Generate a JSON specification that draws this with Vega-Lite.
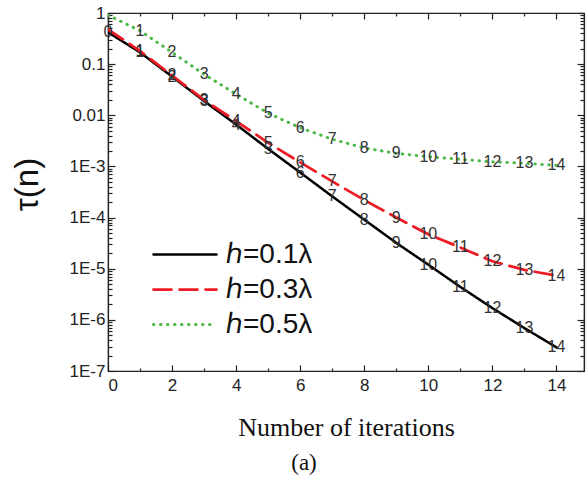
{
  "$schema": "https://vega.github.io/schema/vega-lite/v6.json",
  "width": 476,
  "height": 358,
  "autosize": {"type": "none"},
  "padding": {"left": 108, "top": 13, "right": 2, "bottom": 111},
  "background": "white",
  "title": {"text": "(a)", "orient": "bottom", "anchor": "middle", "dx": -42, "offset": 12, "font": "Liberation Serif", "fontSize": 23, "fontWeight": "normal", "color": "#111"},
  "config": {
    "view": {"stroke": "#222", "strokeWidth": 1.2},
    "axis": {"domainColor": "#222", "domainWidth": 1.2, "tickColor": "#222", "tickWidth": 1.2, "grid": false, "labelFont": "Liberation Sans", "labelFontSize": 17, "labelColor": "#222"}
  },
  "data": {"values": [
    {"series": "ℎ=0.1λ", "n": 0, "tau": 0.42},
    {"series": "ℎ=0.1λ", "n": 1, "tau": 0.17},
    {"series": "ℎ=0.1λ", "n": 2, "tau": 0.057},
    {"series": "ℎ=0.1λ", "n": 3, "tau": 0.019},
    {"series": "ℎ=0.1λ", "n": 4, "tau": 0.0066},
    {"series": "ℎ=0.1λ", "n": 5, "tau": 0.0022},
    {"series": "ℎ=0.1λ", "n": 6, "tau": 0.00076},
    {"series": "ℎ=0.1λ", "n": 7, "tau": 0.00026},
    {"series": "ℎ=0.1λ", "n": 8, "tau": 0.000091},
    {"series": "ℎ=0.1λ", "n": 9, "tau": 0.000032},
    {"series": "ℎ=0.1λ", "n": 10, "tau": 0.000012},
    {"series": "ℎ=0.1λ", "n": 11, "tau": 0.0000044},
    {"series": "ℎ=0.1λ", "n": 12, "tau": 0.0000017},
    {"series": "ℎ=0.1λ", "n": 13, "tau": 0.00000069},
    {"series": "ℎ=0.1λ", "n": 14, "tau": 0.00000029},
    {"series": "ℎ=0.3λ", "n": 0, "tau": 0.48},
    {"series": "ℎ=0.3λ", "n": 1, "tau": 0.18},
    {"series": "ℎ=0.3λ", "n": 2, "tau": 0.06},
    {"series": "ℎ=0.3λ", "n": 3, "tau": 0.02},
    {"series": "ℎ=0.3λ", "n": 4, "tau": 0.0077},
    {"series": "ℎ=0.3λ", "n": 5, "tau": 0.0029},
    {"series": "ℎ=0.3λ", "n": 6, "tau": 0.0012},
    {"series": "ℎ=0.3λ", "n": 7, "tau": 0.00051},
    {"series": "ℎ=0.3λ", "n": 8, "tau": 0.00022},
    {"series": "ℎ=0.3λ", "n": 9, "tau": 0.0001},
    {"series": "ℎ=0.3λ", "n": 10, "tau": 0.000047},
    {"series": "ℎ=0.3λ", "n": 11, "tau": 0.000026},
    {"series": "ℎ=0.3λ", "n": 12, "tau": 0.000014},
    {"series": "ℎ=0.3λ", "n": 13, "tau": 0.0000095},
    {"series": "ℎ=0.3λ", "n": 14, "tau": 0.0000073},
    {"series": "ℎ=0.5λ", "n": 0, "tau": 0.91},
    {"series": "ℎ=0.5λ", "n": 1, "tau": 0.45},
    {"series": "ℎ=0.5λ", "n": 2, "tau": 0.17},
    {"series": "ℎ=0.5λ", "n": 3, "tau": 0.063},
    {"series": "ℎ=0.5λ", "n": 4, "tau": 0.026},
    {"series": "ℎ=0.5λ", "n": 5, "tau": 0.011},
    {"series": "ℎ=0.5λ", "n": 6, "tau": 0.0057},
    {"series": "ℎ=0.5λ", "n": 7, "tau": 0.0034},
    {"series": "ℎ=0.5λ", "n": 8, "tau": 0.0023},
    {"series": "ℎ=0.5λ", "n": 9, "tau": 0.0018},
    {"series": "ℎ=0.5λ", "n": 10, "tau": 0.00155},
    {"series": "ℎ=0.5λ", "n": 11, "tau": 0.00138},
    {"series": "ℎ=0.5λ", "n": 12, "tau": 0.00123},
    {"series": "ℎ=0.5λ", "n": 13, "tau": 0.00115},
    {"series": "ℎ=0.5λ", "n": 14, "tau": 0.00105}
  ]},
  "resolve": {"axis": {"x": "independent", "y": "independent"}},
  "layer": [
    {
      "mark": {"type": "line", "strokeCap": "round", "strokeJoin": "round", "clip": true},
      "encoding": {
        "x": {"field": "n", "type": "quantitative",
          "scale": {"domain": [0, 14.86], "nice": false, "zero": false},
          "axis": {"orient": "bottom", "values": [0,1,2,3,4,5,6,7,8,9,10,11,12,13,14],
            "labelExpr": "datum.value % 2 == 0 ? datum.label : ''",
            "tickSize": {"condition": {"test": "datum.value % 2 == 0", "value": -6}, "value": -3},
            "labelPadding": 12,
            "title": "Number of iterations", "titleFont": "Liberation Serif", "titleFontSize": 26, "titleFontWeight": "normal", "titleColor": "#111",
            "titleX": 238, "titleY": 64, "titleBaseline": "alphabetic"}},
        "y": {"field": "tau", "type": "quantitative",
          "scale": {"type": "log", "domain": [0.0000001, 1], "nice": false},
          "axis": {"orient": "left",
            "values": [0.0000001,0.0000002,0.0000003,0.0000004,0.0000005,0.0000006,0.0000007,0.0000008,0.0000009,0.000001,0.000002,0.000003,0.000004,0.000005,0.000006,0.000007,0.000008,0.000009,0.00001,0.00002,0.00003,0.00004,0.00005,0.00006,0.00007,0.00008,0.00009,0.0001,0.0002,0.0003,0.0004,0.0005,0.0006,0.0007,0.0008,0.0009,0.001,0.002,0.003,0.004,0.005,0.006,0.007,0.008,0.009,0.01,0.02,0.03,0.04,0.05,0.06,0.07,0.08,0.09,0.1,0.2,0.3,0.4,0.5,0.6,0.7,0.8,0.9,1],
            "labelExpr": "indexof([1,0.1,0.01,0.001,0.0001,0.00001,0.000001,0.0000001], datum.value) >= 0 ? (datum.value >= 0.01 ? datum.value + '' : '1E' + round(log(datum.value) / LN10)) : ''",
            "tickSize": {"condition": {"test": "indexof([1,0.1,0.01,0.001,0.0001,0.00001,0.000001,0.0000001], datum.value) >= 0", "value": -7}, "value": -4},
            "labelPadding": 10,
            "title": "τ(n)", "titleFont": "Liberation Sans", "titleFontSize": 33, "titleFontWeight": "normal", "titleColor": "#111",
            "titleAngle": 270, "titleX": -81, "titleY": 171, "titleAlign": "center", "titleBaseline": "middle"}},
        "color": {"field": "series", "type": "nominal",
          "scale": {"domain": ["ℎ=0.1λ", "ℎ=0.3λ", "ℎ=0.5λ"], "range": ["#000000", "#ed1c24", "#4db748"]},
          "legend": {"orient": "none", "legendX": 44, "legendY": 224, "title": null, "symbolType": "stroke", "symbolSize": 3969, "symbolStrokeWidth": 3, "labelFont": "Liberation Sans", "labelFontSize": 28, "labelColor": "#111", "labelOffset": 8, "clipHeight": 35, "rowPadding": 0, "padding": 0,
            "encode": {"symbols": {"update": {"strokeCap": {"value": "round"}}}}}},
        "strokeDash": {"field": "series", "type": "nominal",
          "scale": {"domain": ["ℎ=0.1λ", "ℎ=0.3λ", "ℎ=0.5λ"], "range": [[1, 0], [18, 8], [0.5, 6.5]]},
          "legend": null},
        "strokeWidth": {"field": "series", "type": "nominal",
          "scale": {"domain": ["ℎ=0.1λ", "ℎ=0.3λ", "ℎ=0.5λ"], "range": [2.5, 3, 3.8]},
          "legend": null}
      }
    },
    {
      "transform": [{"filter": "datum.n > 0 || datum.series == 'ℎ=0.1λ'"}],
      "mark": {"type": "text", "font": "Liberation Sans", "fontSize": 16, "color": "#333", "align": "center", "baseline": "middle"},
      "encoding": {
        "x": {"field": "n", "type": "quantitative",
          "axis": {"orient": "top", "values": [0,1,2,3,4,5,6,7,8,9,10,11,12,13,14], "labels": false, "title": null,
            "tickSize": {"condition": {"test": "datum.value % 2 == 0", "value": -6}, "value": -3}}},
        "y": {"field": "tau", "type": "quantitative",
          "axis": {"orient": "right", "labels": false, "title": null,
            "values": [0.0000001,0.0000002,0.0000003,0.0000004,0.0000005,0.0000006,0.0000007,0.0000008,0.0000009,0.000001,0.000002,0.000003,0.000004,0.000005,0.000006,0.000007,0.000008,0.000009,0.00001,0.00002,0.00003,0.00004,0.00005,0.00006,0.00007,0.00008,0.00009,0.0001,0.0002,0.0003,0.0004,0.0005,0.0006,0.0007,0.0008,0.0009,0.001,0.002,0.003,0.004,0.005,0.006,0.007,0.008,0.009,0.01,0.02,0.03,0.04,0.05,0.06,0.07,0.08,0.09,0.1,0.2,0.3,0.4,0.5,0.6,0.7,0.8,0.9,1],
            "tickSize": {"condition": {"test": "indexof([1,0.1,0.01,0.001,0.0001,0.00001,0.000001,0.0000001], datum.value) >= 0", "value": -7}, "value": -4}}},
        "text": {"field": "n", "type": "quantitative"}
      }
    }
  ]
}
